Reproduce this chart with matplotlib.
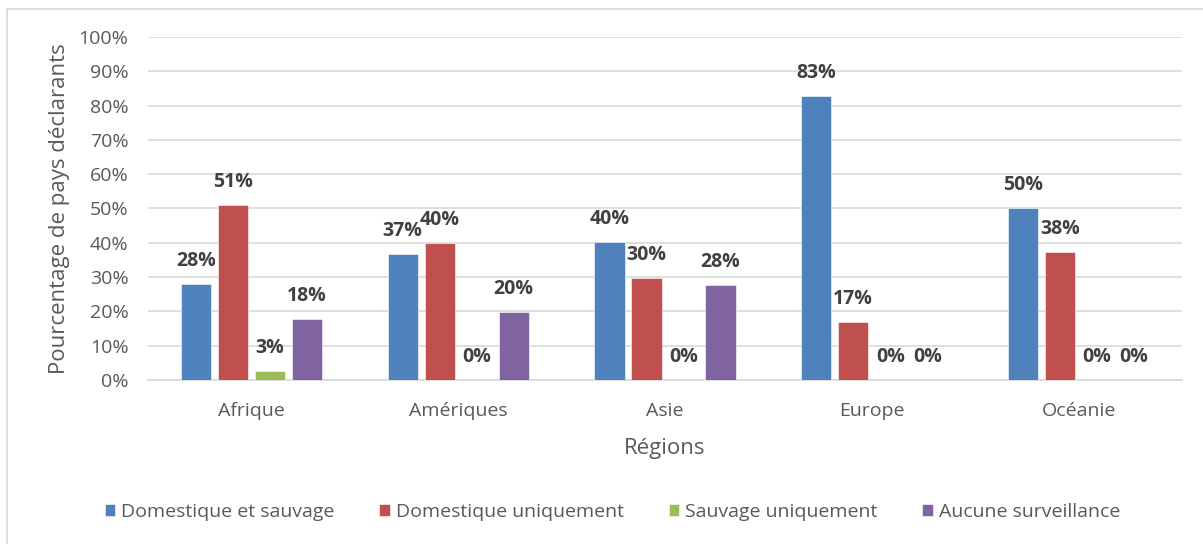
import numpy as np
from matplotlib import pyplot as plt
from matplotlib.lines import Line2D

regions = ['Afrique', 'Amériques', 'Asie', 'Europe', 'Océanie']
series = ['Domestique et sauvage', 'Domestique uniquement',
          'Sauvage uniquement', 'Aucune surveillance']
# pourcentages
dom_sauv = [28.0, 36.6, 40.2, 82.8, 50.0]
dom_uniq = [51.0, 40.0, 29.8, 16.9, 37.4]
sauv_uniq = [2.6, 0.0, 0.0, 0.0, 0.0]
aucune = [17.8, 19.9, 27.6, 0.0, 0.0]
etiquettes = [['28%', '37%', '40%', '83%', '50%'],
              ['51%', '40%', '30%', '17%', '38%'],
              ['3%', '0%', '0%', '0%', '0%'],
              ['18%', '20%', '28%', '0%', '0%']]
couleurs = ['#4F81BD', '#C0504D', '#9BBB59', '#8064A2']

plt.rcParams['font.family'] = ['Open Sans', 'DejaVu Sans']
gris = '#595959'

fig = plt.figure(figsize=(12.03, 5.44), dpi=100)
ax = fig.add_axes([0.123, 0.3015, 0.8595, 0.6305])

x = np.arange(len(regions))
pas = 0.179
larg = 0.146
valeurs = [dom_sauv, dom_uniq, sauv_uniq, aucune]
for i, v in enumerate(valeurs):
    pos = x + (i - 1.5) * pas
    ax.bar(pos, v, larg, color=couleurs[i], label=series[i], zorder=3,
           edgecolor='white', linewidth=0.4)
    for p, h, t in zip(pos, v, etiquettes[i]):
        ax.annotate(t, (p, h), xytext=(0, 23), textcoords='offset pixels',
                    ha='center', va='center', fontsize=14, fontweight='bold',
                    color='#404040')

ax.set_xlim(-0.5, 4.5)
ax.set_ylim(0, 100)
ax.set_yticks(np.arange(0, 101, 10))
ax.set_yticklabels(['%d%%' % t for t in range(0, 101, 10)])
ax.set_xticks(x)
ax.set_xticklabels(regions)
ax.tick_params(axis='both', length=0, labelsize=14, colors=gris)
ax.tick_params(axis='x', pad=16)
ax.tick_params(axis='y', pad=14)
ax.grid(axis='y', color='#d9d9d9', linewidth=1.2, zorder=0)
for s in ['top', 'right', 'left']:
    ax.spines[s].set_visible(False)
ax.spines['bottom'].set_color('#d9d9d9')
ax.spines['bottom'].set_linewidth(1.2)

ax.set_xlabel('Régions', fontsize=16, color=gris, labelpad=13)
ax.set_ylabel('Pourcentage de pays déclarants', fontsize=16, color=gris,
              labelpad=6)

leg = fig.legend(loc='center', bbox_to_anchor=(0.509, 0.059), ncol=4,
                 frameon=False, fontsize=14, handlelength=0.55,
                 handleheight=0.55, handletextpad=0.3, columnspacing=2.3)
for t in leg.get_texts():
    t.set_color(gris)

# cadre du graphique (seulement haut et gauche visibles)
fig.add_artist(Line2D([7 / 1203, 1], [1 - 9 / 544, 1 - 9 / 544],
                      color='#d9d9d9', linewidth=1.2))
fig.add_artist(Line2D([7 / 1203, 7 / 1203], [0, 1 - 9 / 544],
                      color='#d9d9d9', linewidth=1.2))

fig.savefig('out.png', dpi=100)
